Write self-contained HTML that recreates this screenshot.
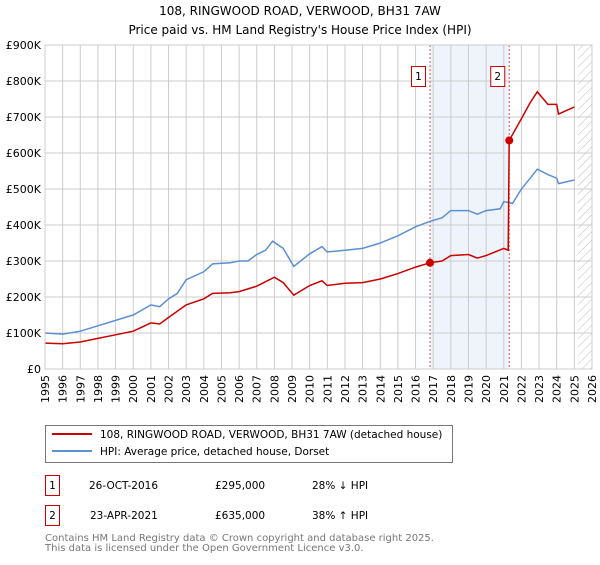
<!DOCTYPE html>
<html><head><meta charset="utf-8"><style>
body{margin:0;background:#fff;font-family:"Liberation Sans","DejaVu Sans",sans-serif;}
svg text{font-family:"DejaVu Sans","Liberation Sans",sans-serif;}
</style></head><body>
<svg id="c" width="600" height="560" xmlns="http://www.w3.org/2000/svg">
<defs><pattern id="hatch" width="6" height="6" patternUnits="userSpaceOnUse" patternTransform="rotate(45)"><line x1="0" y1="0" x2="0" y2="6" stroke="#bbb" stroke-width="1"/></pattern></defs>
<text x="300" y="15" text-anchor="middle" font-size="12">108, RINGWOOD ROAD, VERWOOD, BH31 7AW</text>
<text x="300" y="34" text-anchor="middle" font-size="12">Price paid vs. HM Land Registry's House Price Index (HPI)</text>
<g id="plot"></g>
<g>
<rect x="45.5" y="425.5" width="407" height="37" fill="#fff" stroke="#777"/>
<line x1="52" y1="434" x2="92" y2="434" stroke="#cc0000" stroke-width="2"/>
<text x="100" y="438" font-size="10.5">108, RINGWOOD ROAD, VERWOOD, BH31 7AW (detached house)</text>
<line x1="52" y1="451" x2="92" y2="451" stroke="#5b8fd4" stroke-width="2"/>
<text x="100" y="455" font-size="10.5">HPI: Average price, detached house, Dorset</text>
</g>
<g font-size="10.5">
<rect x="45.5" y="475.5" width="14" height="20" fill="#fff" stroke="#cc0000"/>
<text x="52.5" y="489" text-anchor="middle">1</text>
<text x="89" y="489">26-OCT-2016</text><text x="215" y="489">£295,000</text><text x="312" y="489">28% ↓ HPI</text>
<rect x="45.5" y="505.5" width="14" height="20" fill="#fff" stroke="#cc0000"/>
<text x="52.5" y="519" text-anchor="middle">2</text>
<text x="90" y="519">23-APR-2021</text><text x="215" y="519">£635,000</text><text x="312" y="519">38% ↑ HPI</text>
</g>
<text x="45" y="541" font-size="10" fill="#777">Contains HM Land Registry data © Crown copyright and database right 2025.</text>
<text x="45" y="551" font-size="10" fill="#777">This data is licensed under the Open Government Licence v3.0.</text>
</svg>
<script>
const hpiYears=[1995,1996,1997,1998,1999,2000,2001,2001.5,2002,2002.5,2003,2004,2004.5,2005.5,2006,2006.5,2007,2007.5,2007.9,2008.5,2009.1,2010,2010.7,2011,2012,2013,2014,2015,2016,2016.8,2017.5,2018,2019,2019.5,2020,2020.8,2021.0,2021.5,2022,2022.5,2022.9,2023.5,2024,2024.1,2025];
const hpiValues=[100,97,105,120,135,150,178,173,195,210,248,270,292,295,300,300,318,330,355,335,285,320,340,325,330,335,350,370,395,410,420,440,440,430,440,445,465,460,500,530,555,540,530,515,525];
const priceYears=[1995,1996,1997,1998,1999,2000,2001,2001.5,2002,2003,2004,2004.5,2005.5,2006,2007,2008,2008.5,2009.1,2010,2010.7,2011,2012,2013,2014,2015,2016,2016.82,2017.5,2018,2019,2019.5,2020,2021,2021.25,2021.31,2022,2022.5,2022.9,2023.5,2024,2024.1,2025];
const priceValues=[72,70,75,85,95,105,128,125,143,178,195,210,212,215,230,255,240,205,232,245,232,238,240,250,265,283,295,300,315,318,308,315,335,330,635,695,740,770,735,735,708,728];
const sales=[{label:"1",year:2016.82,value:295},{label:"2",year:2021.31,value:635}];
const yTicks=[0,100,200,300,400,500,600,700,800,900];
const yTickLabels=["£0","£100K","£200K","£300K","£400K","£500K","£600K","£700K","£800K","£900K"];
const xTicks=[1995,1996,1997,1998,1999,2000,2001,2002,2003,2004,2005,2006,2007,2008,2009,2010,2011,2012,2013,2014,2015,2016,2017,2018,2019,2020,2021,2022,2023,2024,2025,2026];

const L=45,R=592,T=45,B=369;
const x=v=>L+(v-1995)/(2026-1995)*(R-L);
const y=v=>B-v/900*(B-T);
const NS="http://www.w3.org/2000/svg";
const g=document.getElementById('plot');
function mk(tag,attrs,parent){const e=document.createElementNS(NS,tag);for(const k in attrs)e.setAttribute(k,attrs[k]);(parent||g).appendChild(e);return e;}
// shaded span
let sh=mk('rect',{x:x(sales[0].year),y:T,width:x(sales[1].year)-x(sales[0].year),height:B-T,fill:'#eef3fc'});


// hatch
let hz=mk('rect',{x:x(2025.2),y:T,width:R-x(2025.2),height:B-T,fill:'url(#hatch)'});


// grid
yTicks.forEach((t,i)=>{
 let l=mk('line',{x1:L,x2:R,y1:y(t),y2:y(t),stroke:'#ccc','stroke-width':1});
 
 
 let tx=mk('text',{x:L-4,y:y(t)+4,'text-anchor':'end','font-size':11});
 tx.textContent=yTickLabels[i];
 
 
});
xTicks.forEach(t=>{
 let l=mk('line',{x1:x(t),x2:x(t),y1:T,y2:B,stroke:'#ccc','stroke-width':1});
 
 
 let tx=mk('text',{x:0,y:0,'text-anchor':'end','font-size':11,transform:`translate(${x(t)+4},${B+6}) rotate(-90)`});
 tx.textContent=t;
 
 
});
// sale lines
sales.forEach(s=>{
 let l=mk('line',{x1:x(s.year),x2:x(s.year),y1:T,y2:B,stroke:'#e05050','stroke-width':1,'stroke-dasharray':'2,2'});
 
 
});
function path(xs,vs){return xs.map((v,i)=>(i?'L':'M')+x(v).toFixed(1)+','+y(vs[i]).toFixed(1)).join('');}
let hp=mk('path',{d:path(hpiYears,hpiValues),fill:'none',stroke:'#5b8fd4','stroke-width':1.5});


let pp=mk('path',{d:path(priceYears,priceValues),fill:'none',stroke:'#cc0000','stroke-width':1.5});


sales.forEach(s=>{
 let c=mk('circle',{cx:x(s.year),cy:y(s.value),r:4,fill:'#cc0000'});
 
 
 let bx=mk('rect',{x:x(s.year)-18.5,y:66.5,width:14,height:20,fill:'#fff',stroke:'#cc0000'});
 
 
 let t=mk('text',{x:x(s.year)-11.5,y:80,'text-anchor':'middle','font-size':10.5});
 t.textContent=s.label;
 
 
});
let fr=mk('rect',{x:L,y:T,width:R-L,height:B-T,fill:'none',stroke:'#ccc'});


</script>
</body></html>
